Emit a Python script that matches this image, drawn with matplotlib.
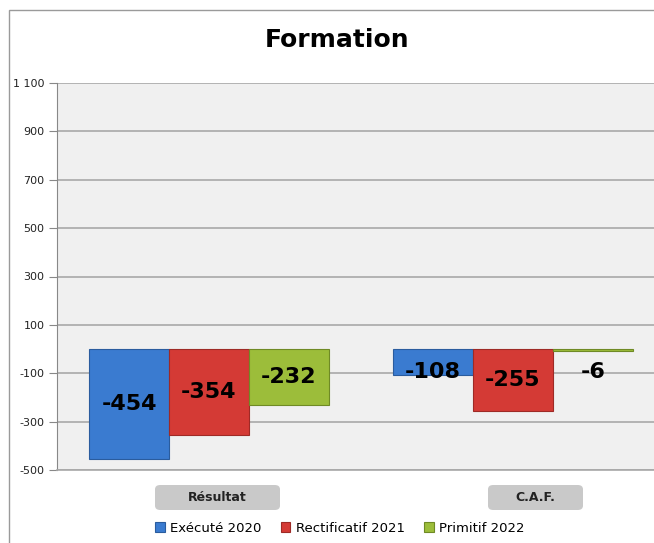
import numpy as np
import matplotlib.pyplot as plt
from matplotlib.patches import FancyBboxPatch, Rectangle

# data
categories = ["Résultat", "C.A.F."]
series_names = ["Exécuté 2020", "Rectificatif 2021", "Primitif 2022"]
executed_2020 = [-454, -108]
rectif_2021 = [-354, -255]
primitif_2022 = [-232, -6]
yticks = [-500, -300, -100, 100, 300, 500, 700, 900, 1100]
ytick_labels = ["-500", "-300", "-100", "100", "300", "500", "700", "900", "1 100"]

colors = ["#3A7BD0", "#D43A35", "#9CBD3A"]
edges = ["#2A5C9E", "#9E2A26", "#6F8A25"]

W, H = 654, 543
fig = plt.figure(figsize=(W / 100, H / 100), dpi=100)

# outer chart border (cropped on the right)
fig.patches.append(Rectangle((9 / W, -0.01), 1.0, 1 - 10 / H + 0.01,
                             transform=fig.transFigure, fill=False,
                             edgecolor="#9A9A9A", linewidth=1.0))

ax = fig.add_axes([57 / W, 1 - 470 / H, (665 - 57) / W, (470 - 83) / H])
ax.set_facecolor("#F0F0F0")

x = np.arange(len(categories))
bw = 0.263
all_series = [executed_2020, rectif_2021, primitif_2022]
for i, vals in enumerate(all_series):
    pos = x + (i - 1) * bw
    ax.bar(pos, vals, width=bw, color=colors[i], edgecolor=edges[i],
           linewidth=0.8, zorder=3, label=series_names[i])
    for xp, v in zip(pos, vals):
        ax.text(xp, min(v / 2, -95), str(v), ha="center", va="center",
                fontsize=16, fontweight="bold", color="black", zorder=4)

ax.set_xlim(-0.5, 1.5)
ax.set_ylim(-500, 1100)
ax.set_yticks(yticks)
ax.set_yticklabels(ytick_labels, fontsize=8, color="#222222")
ax.set_xticks([])
ax.grid(axis="y", color="#A8A8A8", linewidth=1.2, zorder=1)
ax.tick_params(axis="y", length=6, color="#888888", pad=3)
for s in ["top", "right"]:
    ax.spines[s].set_visible(False)
ax.spines["left"].set_color("#888888")
ax.spines["bottom"].set_color("#A8A8A8")
ax.spines["bottom"].set_linewidth(1.2)

fig.text(337 / W, 1 - 40 / H, "Formation", ha="center", va="center",
         fontsize=18, fontweight="bold")

# category label boxes
boxes = [(155, 280), (488, 583)]
for (x0, x1), lab in zip(boxes, categories):
    fig.patches.append(FancyBboxPatch((x0 / W, 1 - 510 / H), (x1 - x0) / W, 25 / H,
                                      boxstyle="round,pad=0,rounding_size=0.008",
                                      transform=fig.transFigure,
                                      facecolor="#C9C9C9", edgecolor="none"))
    fig.text((x0 + x1) / 2 / W, 1 - 497.5 / H, lab, ha="center", va="center",
             fontsize=9, fontweight="bold", color="#222222")

fig.legend(loc="center", bbox_to_anchor=(340 / W, 1 - 528 / H), ncol=3,
           frameon=False, fontsize=9.5, handlelength=0.7, handleheight=0.7,
           columnspacing=1.5, handletextpad=0.4)

fig.savefig("out.png", dpi=100)
